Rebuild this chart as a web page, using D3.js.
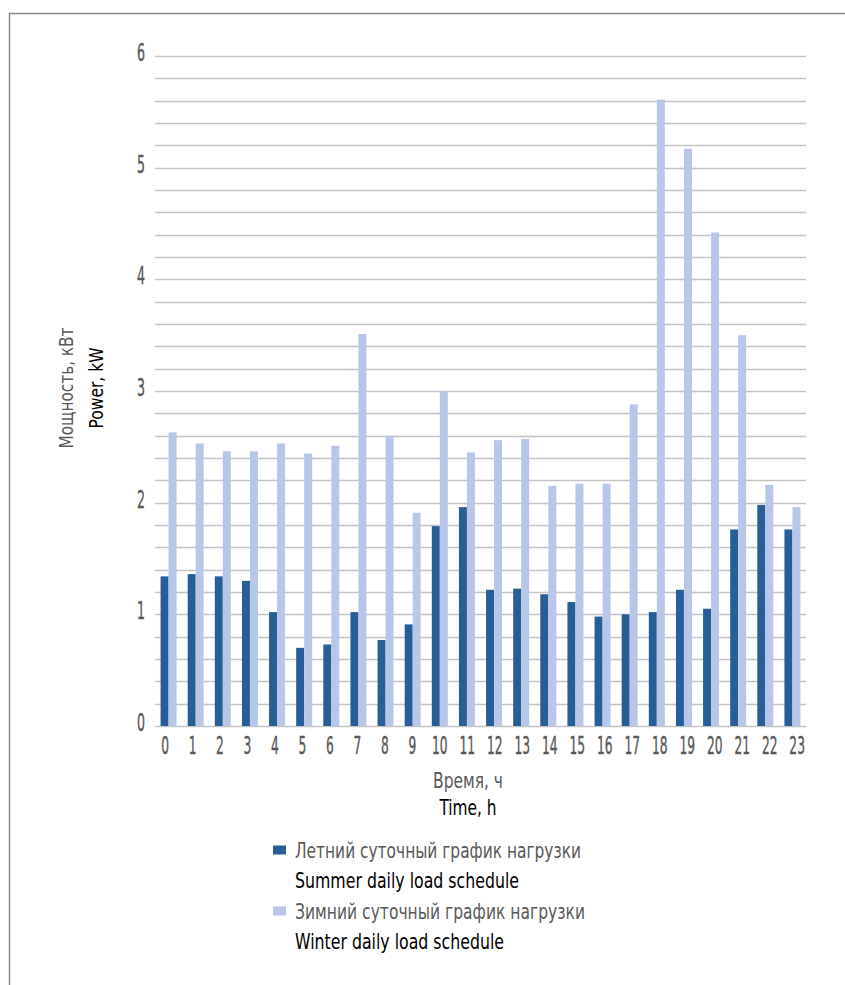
<!DOCTYPE html>
<html><head><meta charset="utf-8">
<script src="https://cdn.jsdelivr.net/npm/d3@7"></script>
<style>
html,body{margin:0;padding:0;background:#fff;}
svg{display:block;font-family:"DejaVu Sans Condensed","Roboto",sans-serif;}
</style></head>
<body>
<script>
const hours = ["0","1","2","3","4","5","6","7","8","9","10","11","12","13","14","15","16","17","18","19","20","21","22","23"];
const summer = [1.34,1.36,1.34,1.30,1.02,0.70,0.73,1.02,0.77,0.91,1.79,1.96,1.22,1.23,1.18,1.11,0.98,1.00,1.02,1.22,1.05,1.76,1.98,1.76];
const winter = [2.63,2.53,2.46,2.46,2.53,2.44,2.51,3.51,2.60,1.91,3.00,2.45,2.56,2.57,2.15,2.17,2.17,2.88,5.61,5.17,4.42,3.50,2.16,1.96];
const yTicks = [0,1,2,3,4,5,6];
const seriesNames = ["summer","winter"];
const seriesLabelsRu = ["Летний суточный график нагрузки","Зимний суточный график нагрузки"];
const seriesLabelsEn = ["Summer daily load schedule","Winter daily load schedule"];
const colors = {summer:"#285e97", winter:"#b8c7e7"};

(function(){
const W = 845, H = 985;
const svg = d3.select("body").append("svg").attr("width",W).attr("height",H);

function fit(sel, len){ sel.attr("textLength",len).attr("lengthAdjust","spacingAndGlyphs"); return sel; }

// frame
svg.append("rect").attr("x",9.5).attr("y",13.5).attr("width",W).attr("height",H)
  .attr("fill","none").attr("stroke","#8a8a8a").attr("stroke-width",1.5);

const pLeft=155, pRight=806, pTop=56, pBottom=726;
const x0 = d3.scaleBand().domain(hours).range([pLeft,pRight]).padding(0);
const xLab = d3.scaleBand().domain(hours).range([151.3,810.9]).padding(0);
const x1 = d3.scaleBand().domain(seriesNames).range([0,16]);
const off = (x0.bandwidth()-16)/2;
const y = d3.scaleLinear().domain([0,6]).range([pBottom,pTop]);

// gridlines every 0.2
const grid = d3.range(0,31).map(i=>i*0.2);
svg.append("g").selectAll("line").data(grid).join("line")
  .attr("x1",pLeft).attr("x2",pRight)
  .attr("y1",d=>Math.round(y(d))+0.5).attr("y2",d=>Math.round(y(d))+0.5)
  .attr("stroke","#c4c4c4").attr("stroke-width",1.6);

// bars
const g = svg.append("g");
hours.forEach((h,i)=>{
  const vals = {summer:summer[i], winter:winter[i]};
  seriesNames.forEach(s=>{
    g.append("rect")
      .attr("x", x0(h)+off+x1(s))
      .attr("width", x1.bandwidth())
      .attr("y", y(vals[s]))
      .attr("height", y(0)-y(vals[s]))
      .attr("fill", colors[s]);
  });
});

// y tick labels
svg.append("g").selectAll("text").data(yTicks).join("text")
  .attr("x",145).attr("y",d=>y(d)-4).attr("dy","0.36em")
  .attr("text-anchor","end").attr("fill","#595959").attr("font-size",25)
  .attr("stroke","#595959").attr("stroke-width",0.4)
  .attr("textLength",8).attr("lengthAdjust","spacingAndGlyphs")
  .text(d=>d);

// x tick labels
svg.append("g").selectAll("text").data(hours).join("text")
  .attr("x",d=>xLab(d)+xLab.bandwidth()/2).attr("y",745).attr("dy","0.36em")
  .attr("text-anchor","middle").attr("fill","#595959").attr("font-size",25)
  .attr("stroke","#595959").attr("stroke-width",0.4)
  .attr("textLength",d=>d.length*7.8).attr("lengthAdjust","spacingAndGlyphs")
  .text(d=>d);

// axis titles
fit(svg.append("text").attr("x",468).attr("y",780).attr("dy","0.36em").attr("text-anchor","middle")
  .attr("fill","#595959").attr("font-size",21).text("Время, ч"), 70);
fit(svg.append("text").attr("x",468).attr("y",807).attr("dy","0.36em").attr("text-anchor","middle")
  .attr("fill","#000").attr("font-size",21).text("Time, h"), 57);

fit(svg.append("text").attr("transform","translate(66,388) rotate(-90)").attr("dy","0.36em")
  .attr("text-anchor","middle").attr("fill","#595959").attr("font-size",19).text("Мощность, кВт"), 121);
fit(svg.append("text").attr("transform","translate(96,388) rotate(-90)").attr("dy","0.36em")
  .attr("text-anchor","middle").attr("fill","#000").attr("font-size",19).text("Power, kW"), 81);

// legend
const legY = [850, 911];
const ruLen = [286, 290], enLen = [224, 209];
seriesNames.forEach((s,i)=>{
  svg.append("rect").attr("x",273).attr("y",legY[i]-4.5).attr("width",13).attr("height",9).attr("fill",colors[s]);
  fit(svg.append("text").attr("x",295).attr("y",legY[i]).attr("dy","0.36em")
    .attr("fill","#595959").attr("font-size",21).text(seriesLabelsRu[i]), ruLen[i]);
  fit(svg.append("text").attr("x",295).attr("y",legY[i]+30).attr("dy","0.36em")
    .attr("fill","#000").attr("font-size",21).text(seriesLabelsEn[i]), enLen[i]);
});
})();
</script>
</body></html>
